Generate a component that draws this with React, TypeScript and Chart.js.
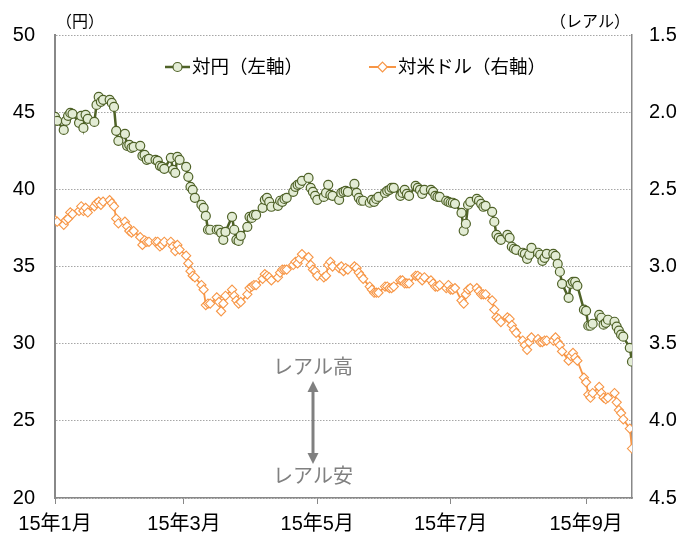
import React, { useEffect, useRef } from "react";
import { Chart, registerables } from "chart.js";

Chart.register(...registerables);

// Trading calendar: weekdays from 2015-01-01 to 2015-09-22 (day index from Jan 1)
const START_UTC = Date.UTC(2015, 0, 1);
const END_UTC = Date.UTC(2015, 8, 22);

const xTickDays = [0, 59, 120, 181, 243];
const xTickLabels = ["15年1月", "15年3月", "15年5月", "15年7月", "15年9月"];

// 対円 (円 per レアル), left axis
const jpyPerBrl = [
  44.70, 44.44,
  43.85, 44.44, 44.76, 44.95, 44.89,
  44.31, 44.76, 43.98, 44.83, 44.57,
  44.37, 45.47, 45.99, 45.67, 45.80,
  45.80, 45.60, 45.34, 43.79, 43.14,
  43.59, 42.82, 42.88, 42.69, 42.75,
  42.82, 42.17, 42.23, 41.91, 41.97,
  41.91, 41.85, 41.52, 41.46, 41.33,
  42.04, 41.26, 41.07, 42.10, 41.91,
  41.46, 40.81, 40.16, 39.97, 39.45,
  39.00, 38.80, 38.28, 37.38, 37.38,
  37.38, 37.38, 37.18, 36.73, 37.25,
  38.22, 37.38, 36.73, 36.66, 36.99,
  37.57, 38.22, 38.15, 38.34, 38.34,
  38.80, 39.32, 39.45, 39.19, 38.87,
  38.93, 39.26, 39.19, 39.38, 39.45,
  39.84, 40.16, 40.29, 40.35, 40.55,
  40.74, 40.10, 39.84, 39.58, 39.32,
  39.51, 39.77, 40.29, 39.64, 39.58,
  39.32, 39.77, 39.84, 39.90, 39.84,
  40.35, 39.77, 39.45, 39.26, 39.26,
  39.13, 39.32, 39.19, 39.38, 39.51,
  39.77, 39.90, 39.97, 40.10, 40.10,
  39.58, 39.77, 39.97, 39.71, 39.58,
  40.23, 40.10, 39.97, 39.71, 39.97,
  39.97, 39.84, 39.58, 39.51, 39.51,
  39.26, 39.19, 39.13, 39.13, 39.06,
  38.48, 37.31, 37.77, 39.00, 39.19,
  39.38, 39.26, 39.06, 38.87, 38.93,
  38.54, 37.90, 37.05, 36.86, 36.73,
  37.05, 36.86, 36.28, 36.15, 36.08,
  35.89, 35.82, 35.50, 35.76, 36.21,
  35.89, 35.76, 35.37, 35.56, 35.82,
  35.82, 35.69, 35.17, 34.66, 33.88,
  32.97, 33.88, 34.01, 34.01, 33.75,
  32.20, 32.13, 31.16, 31.16, 31.29,
  31.87, 31.68, 31.23, 31.35, 31.55,
  31.42, 31.10, 30.84, 30.58, 30.45,
  29.73, 28.83,
];

// 対米ドル (レアル per ドル), right axis (reversed)
const brlPerUsd = [
  2.70, 2.71,
  2.73, 2.70, 2.69, 2.65, 2.66,
  2.64, 2.61, 2.64, 2.62, 2.65,
  2.61, 2.59, 2.58, 2.60, 2.58,
  2.57, 2.59, 2.61, 2.69, 2.72,
  2.71, 2.74, 2.77, 2.78, 2.77,
  2.81, 2.86, 2.83, 2.84, 2.84,
  2.84, 2.84, 2.87, 2.86, 2.84,
  2.84, 2.87, 2.90, 2.86, 2.89,
  2.93, 2.98, 3.03, 3.06, 3.07,
  3.12, 3.15, 3.25, 3.24, 3.24,
  3.20, 3.23, 3.29, 3.24, 3.19,
  3.15, 3.19, 3.22, 3.24, 3.23,
  3.18, 3.14, 3.13, 3.12, 3.12,
  3.08, 3.05, 3.06, 3.07, 3.09,
  3.07, 3.04, 3.02, 3.02, 3.02,
  2.99, 2.97, 2.98, 2.95, 2.92,
  2.94, 2.99, 3.02, 3.03, 3.06,
  3.07, 3.06, 2.99, 2.97, 3.00,
  3.01, 3.00, 3.03, 3.01, 3.02,
  3.00, 3.01, 3.04, 3.06, 3.08,
  3.13, 3.15, 3.17, 3.17, 3.17,
  3.13, 3.13, 3.14, 3.14, 3.13,
  3.09, 3.09, 3.11, 3.11, 3.11,
  3.06, 3.06, 3.07, 3.09, 3.07,
  3.09, 3.11, 3.13, 3.13, 3.12,
  3.14, 3.12, 3.15, 3.15, 3.14,
  3.22, 3.24, 3.18, 3.15, 3.14,
  3.14, 3.16, 3.18, 3.18, 3.18,
  3.22, 3.28, 3.33, 3.34, 3.36,
  3.33, 3.34, 3.38, 3.41, 3.43,
  3.48, 3.51, 3.54, 3.49, 3.46,
  3.47, 3.49, 3.49, 3.48, 3.48,
  3.48, 3.46, 3.49, 3.51, 3.55,
  3.61, 3.58, 3.56, 3.59, 3.61,
  3.72, 3.75, 3.83, 3.85, 3.82,
  3.78, 3.82, 3.85, 3.86, 3.85,
  3.82, 3.88, 3.93, 3.95, 3.99,
  4.05, 4.18,
];

const seriesNames = ["対円（左軸）", "対米ドル（右軸）"];

function tradingDays(): number[] {
  const out: number[] = [];
  for (let t = START_UTC; t <= END_UTC; t += 86400000) {
    const wd = new Date(t).getUTCDay();
    if (wd !== 0 && wd !== 6) out.push(Math.round((t - START_UTC) / 86400000));
  }
  return out;
}

const NUM_FONT = '"Liberation Sans", Arial, "Noto Sans CJK JP", sans-serif';
const JP_FONT = '"Liberation Sans", "Noto Sans CJK JP", sans-serif';
const GREEN = "#4F6228";
const GREEN_FILL = "#E3ECD5";
const ORANGE = "#F79646";
const GRAY = "#808080";

const overlayPlugin = {
  id: "overlay",
  afterDraw(chart: any) {
    const ctx = chart.ctx as CanvasRenderingContext2D;
    const area = chart.chartArea;
    ctx.save();
    // unit labels
    ctx.fillStyle = "#000";
    ctx.font = `16px ${JP_FONT}`;
    ctx.textBaseline = "middle";
    ctx.textAlign = "left";
    ctx.fillText("（円）", area.left + 1, 23);
    ctx.textAlign = "right";
    ctx.fillText("（レアル）", area.right - 2, 23);

    // legend
    const ly = 67;
    ctx.textAlign = "left";
    ctx.font = `18.5px ${JP_FONT}`;
    // green
    ctx.strokeStyle = GREEN;
    ctx.lineWidth = 2.5;
    ctx.beginPath();
    ctx.moveTo(165, ly);
    ctx.lineTo(190, ly);
    ctx.stroke();
    ctx.beginPath();
    ctx.arc(177.5, ly, 4.5, 0, Math.PI * 2);
    ctx.fillStyle = GREEN_FILL;
    ctx.fill();
    ctx.lineWidth = 1.2;
    ctx.stroke();
    ctx.fillStyle = "#000";
    ctx.fillText(seriesNames[0], 192, ly + 1);
    // orange
    ctx.strokeStyle = ORANGE;
    ctx.lineWidth = 2;
    ctx.beginPath();
    ctx.moveTo(369, ly);
    ctx.lineTo(396, ly);
    ctx.stroke();
    ctx.beginPath();
    const d = 4.8;
    ctx.moveTo(382.5, ly - d);
    ctx.lineTo(382.5 + d, ly);
    ctx.lineTo(382.5, ly + d);
    ctx.lineTo(382.5 - d, ly);
    ctx.closePath();
    ctx.fillStyle = "#fff";
    ctx.fill();
    ctx.lineWidth = 1.2;
    ctx.stroke();
    ctx.fillStyle = "#000";
    ctx.fillText(seriesNames[1], 398, ly + 1);

    // annotation
    const ax = 313;
    ctx.fillStyle = GRAY;
    ctx.font = `20px ${JP_FONT}`;
    ctx.textAlign = "center";
    ctx.fillText("レアル高", ax, 368);
    ctx.fillText("レアル安", ax, 477);
    ctx.strokeStyle = GRAY;
    ctx.lineWidth = 3;
    ctx.beginPath();
    ctx.moveTo(ax, 390);
    ctx.lineTo(ax, 455);
    ctx.stroke();
    ctx.beginPath();
    ctx.moveTo(ax, 381);
    ctx.lineTo(ax - 5.5, 392);
    ctx.lineTo(ax + 5.5, 392);
    ctx.closePath();
    ctx.fill();
    ctx.beginPath();
    ctx.moveTo(ax, 464);
    ctx.lineTo(ax - 5.5, 453);
    ctx.lineTo(ax + 5.5, 453);
    ctx.closePath();
    ctx.fill();
    ctx.restore();
  },
};

export default function App() {
  const ref = useRef<HTMLCanvasElement | null>(null);
  useEffect(() => {
    document.body.style.margin = "0";
    const days = tradingDays();
    const n = Math.min(days.length, jpyPerBrl.length, brlPerUsd.length);
    const greenData = [] as { x: number; y: number }[];
    const orangeData = [] as { x: number; y: number }[];
    for (let i = 0; i < n; i++) {
      greenData.push({ x: days[i], y: jpyPerBrl[i] });
      orangeData.push({ x: days[i], y: brlPerUsd[i] });
    }
    const lastDay = (END_UTC - START_UTC) / 86400000;
    const chart = new Chart(ref.current as HTMLCanvasElement, {
      type: "line",
      data: {
        datasets: [
          {
            label: seriesNames[0],
            data: greenData,
            yAxisID: "y",
            borderColor: GREEN,
            borderWidth: 2.5,
            backgroundColor: GREEN_FILL,
            pointStyle: "circle",
            pointRadius: 4.5,
            pointBorderWidth: 1.2,
            pointBorderColor: GREEN,
            pointBackgroundColor: GREEN_FILL,
            tension: 0,
          },
          {
            label: seriesNames[1],
            data: orangeData,
            yAxisID: "y1",
            borderColor: ORANGE,
            borderWidth: 1.8,
            backgroundColor: "#fff",
            pointStyle: "rectRot",
            pointRadius: 4.6,
            pointBorderWidth: 1.1,
            pointBorderColor: ORANGE,
            pointBackgroundColor: "#fff",
            tension: 0,
          },
        ],
      },
      options: {
        responsive: false,
        animation: false,
        events: [],
        layout: { padding: { top: 35, left: 0, right: 0, bottom: 0 } },
        plugins: { legend: { display: false }, tooltip: { enabled: false }, title: { display: false } },
        scales: {
          x: {
            type: "linear",
            min: 0,
            max: lastDay,
            afterBuildTicks: (scale: any) => {
              scale.ticks = xTickDays.map((v) => ({ value: v }));
            },
            afterFit: (scale: any) => {
              scale.height = 38;
            },
            ticks: {
              autoSkip: false,
              maxRotation: 0,
              padding: 8,
              color: "#000",
              font: { size: 20, family: JP_FONT },
              callback: (v: any) => {
                const i = xTickDays.indexOf(Number(v));
                return i >= 0 ? xTickLabels[i] : "";
              },
            },
            grid: { drawOnChartArea: false, drawTicks: true, tickLength: 6, color: "#888", lineWidth: 1 },
            border: { color: "#888", width: 1.5 },
          },
          y: {
            position: "left",
            min: 20,
            max: 50,
            afterFit: (scale: any) => {
              scale.width = 55;
            },
            ticks: { stepSize: 5, padding: 20, color: "#000", font: { size: 20, family: NUM_FONT } },
            grid: { drawTicks: false, color: "#a6a6a6", lineWidth: 1 },
            border: { color: "#888", width: 2, dash: [1.5, 1.5] },
          },
          y1: {
            position: "right",
            min: 1.5,
            max: 4.5,
            reverse: true,
            afterFit: (scale: any) => {
              scale.width = 50;
            },
            ticks: {
              stepSize: 0.5,
              padding: 17,
              color: "#000",
              font: { size: 20, family: NUM_FONT },
              callback: (v: any) => Number(v).toFixed(1),
            },
            grid: { drawOnChartArea: false, drawTicks: false },
            border: { color: "#888", width: 1.5 },
          },
        },
      },
      plugins: [overlayPlugin],
    } as any);
    return () => chart.destroy();
  }, []);
  return (
    <div style={{ width: 682, height: 536 }}>
      <canvas ref={ref} width={682} height={536} style={{ display: "block" }} />
    </div>
  );
}
